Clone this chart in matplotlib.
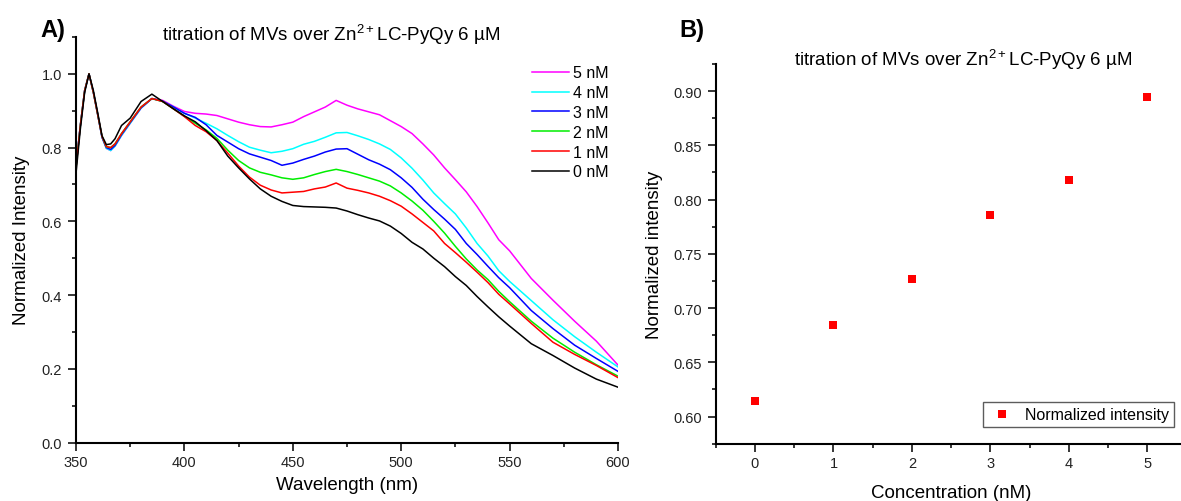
import numpy as np
import matplotlib.pyplot as plt
from matplotlib.ticker import MultipleLocator

plt.rcParams['font.family'] = ['Liberation Sans', 'DejaVu Sans']
plt.rcParams['mathtext.fontset'] = 'custom'
plt.rcParams['mathtext.rm'] = 'Liberation Sans'

####################################
# data

wavelength = [350, 352, 354, 356, 358, 360, 362, 364, 366, 368, 371, 375, 380, 385, 390,
              395, 400, 405, 410, 415, 420, 425, 430, 435, 440, 445, 450, 455, 460, 465,
              470, 475, 480, 485, 490, 495, 500, 505, 510, 515, 520, 525, 530, 535, 540,
              545, 550, 560, 570, 580, 590, 600]

nm0 = [0.730, 0.850, 0.950, 1.000, 0.955, 0.895, 0.832, 0.808, 0.810, 0.824, 0.860, 0.880, 0.925, 0.945, 0.925,
       0.905, 0.886, 0.870, 0.846, 0.819, 0.777, 0.745, 0.715, 0.688, 0.668, 0.654, 0.643, 0.640, 0.639, 0.638,
       0.636, 0.628, 0.618, 0.609, 0.601, 0.587, 0.567, 0.543, 0.525, 0.500, 0.477, 0.450, 0.426, 0.396, 0.368,
       0.341, 0.316, 0.268, 0.236, 0.202, 0.172, 0.150]

nm1 = [0.745, 0.860, 0.955, 1.000, 0.950, 0.890, 0.830, 0.803, 0.800, 0.810, 0.838, 0.870, 0.910, 0.933, 0.925,
       0.905, 0.884, 0.860, 0.843, 0.819, 0.785, 0.750, 0.720, 0.698, 0.685, 0.677, 0.679, 0.681, 0.688, 0.693,
       0.704, 0.690, 0.684, 0.677, 0.668, 0.656, 0.641, 0.620, 0.597, 0.574, 0.540, 0.515, 0.489, 0.462, 0.434,
       0.402, 0.376, 0.323, 0.272, 0.239, 0.209, 0.176]

nm2 = [0.745, 0.860, 0.955, 1.000, 0.950, 0.890, 0.830, 0.802, 0.800, 0.810, 0.838, 0.870, 0.910, 0.933, 0.925,
       0.905, 0.885, 0.866, 0.848, 0.825, 0.793, 0.765, 0.745, 0.733, 0.726, 0.718, 0.714, 0.718, 0.727, 0.735,
       0.741, 0.735, 0.727, 0.718, 0.709, 0.696, 0.677, 0.655, 0.630, 0.600, 0.568, 0.532, 0.498, 0.468, 0.442,
       0.410, 0.382, 0.329, 0.283, 0.245, 0.211, 0.180]

nm3 = [0.748, 0.860, 0.955, 1.000, 0.950, 0.890, 0.828, 0.800, 0.795, 0.806, 0.835, 0.868, 0.908, 0.933, 0.926,
       0.910, 0.893, 0.882, 0.862, 0.833, 0.815, 0.797, 0.783, 0.774, 0.765, 0.752, 0.758, 0.768, 0.777, 0.788,
       0.796, 0.797, 0.782, 0.767, 0.755, 0.740, 0.718, 0.692, 0.660, 0.632, 0.606, 0.578, 0.540, 0.510, 0.478,
       0.447, 0.420, 0.358, 0.309, 0.264, 0.228, 0.193]

nm4 = [0.748, 0.860, 0.955, 1.000, 0.950, 0.890, 0.828, 0.798, 0.792, 0.804, 0.833, 0.866, 0.907, 0.933, 0.925,
       0.910, 0.893, 0.880, 0.866, 0.851, 0.833, 0.816, 0.801, 0.793, 0.786, 0.790, 0.797, 0.809, 0.817, 0.828,
       0.840, 0.841, 0.832, 0.822, 0.810, 0.795, 0.772, 0.744, 0.712, 0.677, 0.648, 0.620, 0.582, 0.540, 0.506,
       0.466, 0.437, 0.385, 0.333, 0.287, 0.245, 0.205]

nm5 = [0.750, 0.860, 0.955, 1.000, 0.950, 0.890, 0.828, 0.798, 0.792, 0.804, 0.833, 0.866, 0.907, 0.933, 0.928,
       0.912, 0.898, 0.893, 0.891, 0.887, 0.878, 0.869, 0.862, 0.857, 0.856, 0.862, 0.869, 0.884, 0.897, 0.910,
       0.928, 0.915, 0.905, 0.897, 0.889, 0.873, 0.857, 0.838, 0.810, 0.780, 0.745, 0.713, 0.680, 0.640, 0.596,
       0.550, 0.520, 0.445, 0.386, 0.329, 0.275, 0.210]

spectra = [nm5, nm4, nm3, nm2, nm1, nm0]
labels = ['5 nM', '4 nM', '3 nM', '2 nM', '1 nM', '0 nM']
colors = ['#ff00ff', '#00ffff', '#0000ff', '#00ee00', '#ff0000', '#000000']

concentration = [0, 1, 2, 3, 4, 5]
intensity = [0.614, 0.684, 0.727, 0.786, 0.818, 0.895]

title = r'titration of MVs over Zn$^{\mathrm{2+}}$LC-PyQy 6 µM'

####################################

W, H = 1181, 502
fig = plt.figure(figsize=(W / 100, H / 100), dpi=100)

def style_axis(ax):
    for side in ['top', 'right']:
        ax.spines[side].set_visible(False)
    for side in ['left', 'bottom']:
        ax.spines[side].set_linewidth(1.5)
    ax.tick_params(which='major', direction='out', length=5.5, width=1.1,
                   labelsize=10.5, labelcolor='#222222')
    ax.tick_params(which='minor', direction='out', length=3, width=1.1)
    ax.tick_params(axis='x', which='major', pad=3.5)
    ax.tick_params(axis='y', which='major', pad=4.5)

# panel A - spectra
ax1 = fig.add_axes([76 / W, 1 - 443.5 / H, 542 / W, 405.5 / H])
for y, lab, c in zip(spectra, labels, colors):
    ax1.plot(wavelength, y, color=c, lw=1.1, label=lab)
ax1.set_xlim(350, 600)
ax1.set_ylim(0, 1.1)
ax1.xaxis.set_major_locator(MultipleLocator(50))
ax1.xaxis.set_minor_locator(MultipleLocator(25))
ax1.yaxis.set_major_locator(MultipleLocator(0.2))
ax1.yaxis.set_minor_locator(MultipleLocator(0.1))
ax1.yaxis.set_major_formatter(plt.FormatStrFormatter('%.1f'))
style_axis(ax1)
ax1.set_xlabel('Wavelength (nm)', fontsize=13.5, labelpad=5)
ax1.set_ylabel('Normalized Intensity', fontsize=13.5, labelpad=8)
ax1.legend(loc='upper left', bbox_to_anchor=(0.841, 0.93), frameon=False,
           fontsize=11.5, handlelength=2.3, handletextpad=0.25,
           labelspacing=0.3, borderpad=0, borderaxespad=0)

# panel B - intensity vs concentration
ax2 = fig.add_axes([715.7 / W, 1 - 444.7 / H, 471 / W, 379.7 / H])
ax2.plot(concentration, intensity, 's', color='#ff0000', ms=6, mew=0,
         label='Normalized intensity')
ax2.set_xlim(-0.5, 5.5)
ax2.set_ylim(0.575, 0.925)
ax2.xaxis.set_major_locator(MultipleLocator(1))
ax2.xaxis.set_minor_locator(MultipleLocator(0.5))
ax2.yaxis.set_major_locator(MultipleLocator(0.05))
ax2.yaxis.set_minor_locator(MultipleLocator(0.025))
ax2.yaxis.set_major_formatter(plt.FormatStrFormatter('%.2f'))
style_axis(ax2)
ax2.set_xlabel('Concentration (nM)', fontsize=13.5, labelpad=10)
ax2.set_ylabel('Normalized intensity', fontsize=13.5, labelpad=7)
leg = ax2.legend(loc='lower right', bbox_to_anchor=(1174 / W, 1 - 428 / H),
                 bbox_transform=fig.transFigure, fontsize=11.5, fancybox=False,
                 edgecolor='#333333', handletextpad=0.55, borderpad=0.3,
                 handlelength=1.8, borderaxespad=0)
leg.get_frame().set_linewidth(1.0)

# titles and panel letters
fig.text(331 / W, 1 - 35 / H, title, fontsize=13.5, ha='center', va='center')
fig.text(963 / W, 1 - 60 / H, title, fontsize=13.5, ha='center', va='center')
fig.text(40 / W, 1 - 31 / H, 'A)', fontsize=17, fontweight='bold', va='center')
fig.text(679 / W, 1 - 31 / H, 'B)', fontsize=17, fontweight='bold', va='center')

fig.savefig('out.png', dpi=100)
